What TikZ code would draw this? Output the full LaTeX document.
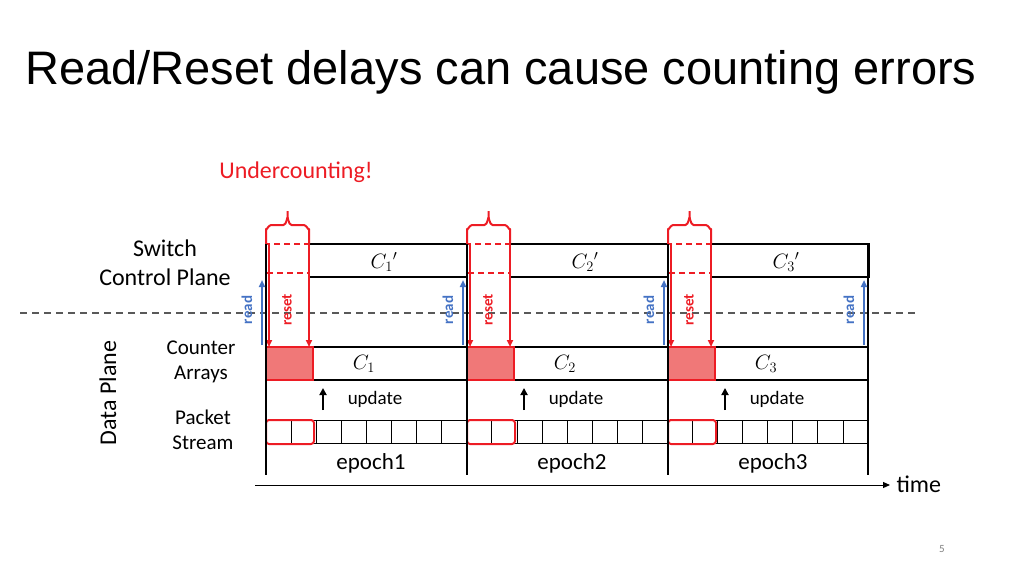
\documentclass[tikz,border=0pt]{standalone}
\usepackage{fontspec}
\setmainfont{Carlito}
\newfontfamily\arialf{Liberation Sans}
\usetikzlibrary{arrows.meta}
\definecolor{rd}{RGB}{237,28,36}
\definecolor{bl}{RGB}{68,114,196}
\definecolor{fillred}{RGB}{240,120,120}
\begin{document}
\begin{tikzpicture}[x=1pt,y=-1pt,
  lbl/.style={font=\fontsize{24}{29}\selectfont,align=center},
  sm/.style={font=\fontsize{21}{25}\selectfont},
  redarr/.style={rd,line width=1.8pt,-{Triangle[length=7pt,width=6pt]}},
  bluearr/.style={bl,line width=2.2pt,-{Triangle[length=7pt,width=6pt]}},
  blk/.style={line width=1.2pt}]
\useasboundingbox (0,0) rectangle (1024,576);
\node[anchor=west,font=\arialf\fontsize{47}{52}\selectfont] (title) at (22,72) {Read/Reset delays can cause counting errors};
\node[rd,lbl] (under) at (296,172) {Undercounting!};
\node[lbl,align=center] (scp) at (165,263) {Switch\\Control Plane};
\node[sm,align=center] (ca) at (201,362) {Counter\\Arrays};
\node[sm,align=center] (ps) at (203,430) {Packet\\Stream};
\node[lbl,rotate=90] (dp) at (108,393) {Data Plane};
\draw[gray!70!black,dashed,line width=1.2pt,dash pattern=on 7pt off 5pt] (20,313) -- (915,313);
\draw[blk] (266,347) rectangle (868,380);
\draw[line width=0.8pt] (266,420) rectangle (868,443);
\foreach \i in {1,...,23} \draw[line width=0.6pt] (266+\i*25.08,420) -- (266+\i*25.08,443);
\foreach \k/\x in {1/266,2/467,3/668}{
  \pgfmathsetmacro{\xr}{\x+201}
  \pgfmathsetmacro{\xd}{\x+43}
  \pgfmathsetmacro{\xm}{\x+21.5}
  \draw[blk] (\xd,244) rectangle (\xr,277);
  \node[font=\fontsize{22}{24}\selectfont] (cp\k) at (\x+118,262) {$C_{\k}{}'$};
  \node[font=\fontsize{22}{24}\selectfont] (c\k) at (\x+98,364) {$C_{\k}$};
  \draw[rd,line width=1.2pt,dashed,dash pattern=on 6pt off 4pt] (\x,244) rectangle (\xd,273);
  \draw[rd,line width=2pt,line join=round] (\x,244) -- (\x,229) to[out=-90,in=180] (\x+5,225) -- (\xm-4,225) to[out=0,in=90] (\xm,218) -- (\xm,211);
  \draw[rd,line width=2pt,line join=round] (\xd,244) -- (\xd,229) to[out=-90,in=0] (\xd-5,225) -- (\xm+4,225) to[out=180,in=90] (\xm,218);
  \draw[rd,fill=fillred,line width=1.5pt] (\x,347) rectangle (\x+47,380);
  \draw[rd,line width=2pt,rounded corners=3pt] (\x,420) rectangle (\x+48,444);
  \draw[redarr] (\x+3,244) -- (\x+3,347);
  \draw[redarr] (\xd,244) -- (\xd,347);
  \node[rd,rotate=90,font=\bfseries\fontsize{15}{17}\selectfont] (rs\k) at (\x+21,310) {reset};
  \draw[line width=2pt,-{Triangle[length=7pt,width=7pt]}] (\x+57,410) -- (\x+57,388);
  \node[font=\fontsize{19}{21}\selectfont] (up\k) at (\x+109,399) {update};
  \node[font=\fontsize{23}{26}\selectfont] (ep\k) at (\x+105,463) {epoch\k};
}
\foreach \k/\x in {1/266,2/467,3/668,4/868}{
  \draw[blk] (\x,244) -- (\x,475);
  \draw[bluearr] (\x-4,345) -- (\x-4,280);
  \node[bl,rotate=90,font=\bfseries\fontsize{15}{17}\selectfont] (rd\k) at (\x-19,310) {read};
}
\draw[line width=1pt,-{Triangle[length=7pt,width=6pt]}] (255,485) -- (890,485);
\node[lbl,anchor=west] (time) at (893,484) {time};
\node[gray,font=\fontsize{11}{13}\selectfont] (pg) at (942,549) {5};
\end{tikzpicture}
\end{document}
